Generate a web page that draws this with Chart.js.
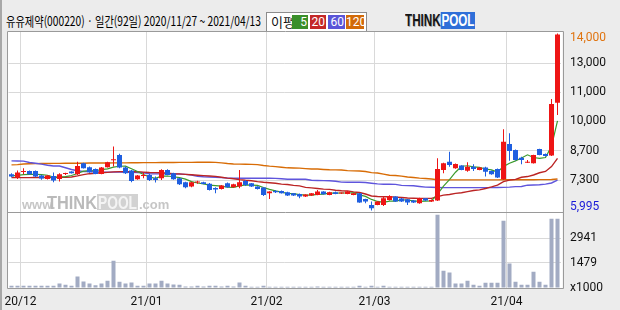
<!DOCTYPE html>
<html><head><meta charset="utf-8">
<script src="https://cdn.jsdelivr.net/npm/chart.js@4.4.1/dist/chart.umd.min.js"></script>
<style>
html,body{margin:0;padding:0;}
body{width:620px;height:310px;background:#ececec;position:relative;overflow:hidden;font-family:"Noto Sans CJK KR",sans-serif;}
#edge{position:absolute;left:0;top:0;width:2px;height:310px;background:#a8a8a8;}
#title{position:absolute;left:6px;top:12px;font-size:13px;line-height:17px;color:#000;white-space:nowrap;transform-origin:0 0;}
#legend{position:absolute;left:266px;top:12px;width:99px;height:18px;border:1px solid #8c8c8c;background:#fff;}
#legend .lb{position:absolute;left:4px;top:0px;font-size:13px;line-height:18px;color:#111;}
#legend .bx{position:absolute;top:2px;height:14px;font:12px/14px Roboto,sans-serif;color:#fff;text-align:right;box-sizing:border-box;padding-right:1px;}
#logo{position:absolute;left:405px;top:13px;height:16px;white-space:nowrap;font:bold 16px/16px "Liberation Sans",Arial,sans-serif;transform-origin:0 0;}
#logo .t{color:#151515;text-shadow:1px 1px 0 #b0b0b0;}
#logo .p{color:#fff;background:#2f6fd8;padding:0 1px;}
canvas{position:absolute;left:0;top:0;}
</style></head>
<body>
<div id="edge"></div>
<div id="title">유유제약(000220) · 일간(92일) 2020/11/27 ~ 2021/04/13</div>
<div id="legend"><span class="lb">이평</span>
<span class="bx" style="left:25px;width:16px;background:#3a8f2a">5</span>
<span class="bx" style="left:43px;width:16px;background:#c42828">20</span>
<span class="bx" style="left:61px;width:17px;background:#5a55d8">60</span>
<span class="bx" style="left:79px;width:18px;background:#d26a08">120</span>
</div>
<div id="logo"><span class="t">THINK</span><span class="p">POOL</span></div>
<canvas id="c" width="620" height="310"></canvas>
<script>
const dates = ['2020-11-27','2020-11-30',
'2020-12-01','2020-12-02','2020-12-03','2020-12-04','2020-12-07','2020-12-08','2020-12-09','2020-12-10','2020-12-11','2020-12-14','2020-12-15','2020-12-16','2020-12-17','2020-12-18','2020-12-21','2020-12-22','2020-12-23','2020-12-24','2020-12-28','2020-12-29','2020-12-30',
'2021-01-04','2021-01-05','2021-01-06','2021-01-07','2021-01-08','2021-01-11','2021-01-12','2021-01-13','2021-01-14','2021-01-15','2021-01-18','2021-01-19','2021-01-20','2021-01-21','2021-01-22','2021-01-25','2021-01-26','2021-01-27','2021-01-28','2021-01-29',
'2021-02-01','2021-02-02','2021-02-03','2021-02-04','2021-02-05','2021-02-08','2021-02-09','2021-02-10','2021-02-15','2021-02-16','2021-02-17','2021-02-18','2021-02-19','2021-02-22','2021-02-23','2021-02-24','2021-02-25','2021-02-26',
'2021-03-02','2021-03-03','2021-03-04','2021-03-05','2021-03-08','2021-03-09','2021-03-10','2021-03-11','2021-03-12','2021-03-15','2021-03-16','2021-03-17','2021-03-18','2021-03-19','2021-03-22','2021-03-23','2021-03-24','2021-03-25','2021-03-26','2021-03-29','2021-03-30','2021-03-31',
'2021-04-01','2021-04-02','2021-04-05','2021-04-06','2021-04-07','2021-04-08','2021-04-09','2021-04-12','2021-04-13'];

const opens = [7634,7483,7740,7785,7785,7573,7423,7558,7423,7640,7754,7634,8131,7950,7875,7649,7950,8270,8508,7935,
7800,7408,7560,7604,7453,7453,7830,7679,7453,7272,7076,7260,7272,7210,7010,6971,7227,7046,7076,7332,
7227,7076,7031,6775,6880,6880,6820,6775,6745,6624,6670,6700,6850,6700,6820,6760,6745,6700,6775,6519,
6247,6247,6247,6474,6624,6533,6502,6442,6321,6548,6397,6442,7828,8205,7904,8025,7798,7979,7828,7934,
7783,7873,7406,9004,8733,8386,8160,8130,8778,8552,8477,10873];
const highs = [7679,7800,7905,7800,7800,7610,7600,7709,7679,7700,7770,8200,8160,7980,7890,7960,8200,8885,8560,7980,
7830,7600,7709,7660,7528,7860,7860,7700,7470,7300,7290,7340,7300,7240,7050,7151,7260,7200,7830,7378,
7240,7090,7050,6870,6920,6900,6840,6790,6760,6730,6790,6926,6870,6840,6850,6810,6880,6790,6790,6530,
6398,6420,6624,6680,6640,6560,6520,6470,6570,6560,6490,8356,8160,8657,8120,8040,8175,8085,7950,7979,
7800,7890,9667,9486,8750,8431,8281,8520,8790,8570,11038,14000];
const lows = [7500,7423,7634,7620,7500,7390,7400,7272,7302,7600,7670,7604,7890,7700,7630,7630,7935,7980,7905,7649,
7272,7390,7453,7332,7257,7378,7590,7390,7150,7001,7050,7200,7180,6900,6775,6950,7020,7030,6996,7106,
7060,6950,6654,6519,6790,6760,6650,6650,6549,6610,6650,6690,6715,6690,6730,6740,6730,6690,6340,6323,
5995,6230,6200,6450,6380,6380,6246,6330,6300,6430,6380,6430,7678,7979,7880,7810,7753,7783,7810,7527,
7610,7470,7390,8250,8260,8085,8145,8115,8490,8440,8460,10315];
const closes = [7528,7709,7770,7634,7528,7438,7573,7347,7634,7660,7679,8010,7905,7724,7649,7935,8176,8290,7935,7679,
7332,7573,7590,7378,7378,7830,7604,7408,7182,7046,7272,7280,7197,6925,6940,7121,7046,7182,7272,7151,
7076,6971,6700,6850,6820,6775,6670,6670,6624,6715,6775,6850,6730,6820,6745,6790,6850,6775,6353,6398,
6097,6398,6549,6654,6398,6397,6351,6351,6548,6442,6472,7873,8130,8055,8100,7828,7979,7873,7934,7753,
7632,7482,9109,8687,8281,8281,8205,8507,8507,8461,10812,13950];
const volumes = [128,128,128,128,128,128,128,128,266,187,128,680,384,266,167,266,424,1606,364,266,
325,128,128,266,266,424,266,207,187,89,89,128,89,128,128,89,128,89,325,128,
69,69,128,69,69,69,69,69,69,69,69,89,69,69,69,69,69,69,128,69,
128,69,128,69,69,69,69,69,69,69,69,4330,1015,916,266,266,424,187,128,305,
305,305,3970,1448,364,187,187,955,364,187,4088,4088];
const ma5 = [7560,7580,7620,7630,7634,7616,7589,7504,7504,7530,7579,7666,7778,7796,7793,7845,7878,7955,7997,8003,
7882,7762,7622,7510,7450,7550,7556,7520,7480,7414,7302,7238,7195,7144,7123,7093,7046,7043,7112,7154,
7145,7130,7034,6950,6883,6823,6763,6757,6712,6691,6691,6727,6739,6778,6784,6787,6787,6796,6703,6633,
6495,6404,6359,6419,6419,6479,6470,6430,6409,6418,6433,6737,7093,7394,7726,7997,8018,7967,7943,7873,
7834,7735,7982,8133,8238,8368,8513,8392,8356,8392,8898,10047];
const ma20 = [7480,7480,7480,7480,7485,7485,7490,7490,7495,7500,7510,7560,7620,7660,7680,7700,7720,7740,7755,7755,
7750,7745,7730,7715,7710,7700,7680,7660,7650,7630,7610,7590,7570,7555,7540,7500,7460,7430,7390,7360,
7340,7300,7270,7250,7230,7190,7170,7130,7110,7040,7020,6990,6960,6950,6910,6890,6880,6830,6810,6740,
6650,6630,6620,6615,6600,6580,6560,6550,6545,6545,6545,6620,6690,6720,6770,6800,6850,6900,6930,6990,
7060,7140,7300,7370,7400,7500,7530,7600,7700,7760,7980,8350];
const ma60 = [8240,8235,8230,8165,8130,8090,8040,8010,8005,7930,7850,7790,7760,7755,7750,7735,7730,7730,7730,7725,
7720,7715,7700,7660,7650,7650,7650,7645,7640,7630,7600,7540,7520,7510,7500,7480,7460,7455,7455,7455,
7455,7455,7455,7455,7450,7430,7410,7410,7410,7405,7360,7350,7345,7340,7320,7280,7275,7270,7270,7260,
7230,7200,7185,7180,7175,7130,7120,7115,7080,7050,7045,7035,7030,7030,7030,7030,7030,7030,7030,7030,
7030,7035,7040,7050,7075,7080,7140,7150,7160,7190,7240,7370];
const ma120 = [8060,8070,8100,8110,8115,8120,8120,8125,8125,8130,8130,8135,8135,8140,8140,8140,8145,8150,8150,8150,
8155,8155,8160,8160,8160,8165,8165,8165,8170,8170,8170,8175,8175,8175,8170,8150,8120,8100,8090,8085,
8080,8070,8030,8000,7980,7950,7925,7920,7910,7890,7875,7870,7850,7835,7830,7825,7800,7785,7780,7760,
7710,7690,7640,7590,7575,7550,7510,7490,7460,7440,7420,7385,7380,7380,7380,7380,7380,7380,7380,7380,
7380,7380,7385,7385,7385,7385,7385,7385,7390,7390,7395,7420];

const priceTickValues = [6140, 7374, 8686, 10029, 11341, 12652, 13783];
const priceTickLabels = ['5,995','7,300','8,700','10,000','11,000','13,000','14,000'];
const volTickValues = [0, 1479, 2941];
const volTickLabels = ['x1000','1479','2941'];

const UP = '#ee1515', DOWN = '#1f5fe0';
const candleColors = closes.map((c,i)=> c >= opens[i] ? UP : DOWN);

const t = document.getElementById('title');
t.style.transform = 'scaleX(' + (255 / t.offsetWidth) + ')';
const lg = document.getElementById('logo');
lg.style.transform = 'scaleX(' + (70 / lg.offsetWidth) + ')';

const frame = {
  id: 'frame',
  beforeDraw(chart) {
    const {ctx, chartArea: a} = chart;
    ctx.save();
    ctx.fillStyle = '#ffffff';
    ctx.fillRect(a.left - 1.5, a.top, a.right - a.left + 3.5, a.bottom - a.top);
    ctx.restore();
  },
  beforeDatasetsDraw(chart) {
    const {ctx} = chart;
    const x0 = chart.chartArea.left + 13.5, base = 209;
    ctx.save();
    ctx.textBaseline = 'alphabetic';
    ctx.fillStyle = '#c6c6c6';
    ctx.font = 'bold 13px "Liberation Sans", Arial, sans-serif';
    ctx.fillText('www.', x0, base);
    let x = x0 + 25;
    ctx.font = 'bold 19px "Liberation Sans", Arial, sans-serif';
    const w1 = ctx.measureText('THINK').width;
    ctx.save(); ctx.translate(x, base); ctx.scale(50 / w1, 1);
    ctx.fillStyle = '#bababa'; ctx.fillText('THINK', 0, 0); ctx.restore();
    x += 50;
    ctx.fillStyle = '#d2d2d2';
    ctx.fillRect(x, base - 15, 41, 16);
    const w2 = ctx.measureText('POOL').width;
    ctx.save(); ctx.translate(x + 1, base); ctx.scale(39 / w2, 1);
    ctx.fillStyle = '#f4f4f4'; ctx.fillText('POOL', 0, 0); ctx.restore();
    x += 42;
    ctx.font = 'bold 13px "Liberation Sans", Arial, sans-serif';
    ctx.fillStyle = '#c6c6c6';
    ctx.fillText('.com', x, base);
    ctx.restore();
  },
  afterDraw(chart) {
    const {ctx, chartArea: a} = chart;
    const L = Math.round(a.left) - 1.5, R = Math.round(a.right) + 2.5;
    const T = Math.round(a.top) + 0.5, B = Math.round(a.bottom) + 0.5;
    const D = Math.round(chart.scales.y.bottom) + 0.5;
    ctx.save();
    ctx.strokeStyle = '#9a9a9a';
    ctx.lineWidth = 1;
    ctx.beginPath();
    ctx.rect(L, T, R - L, B - T);
    ctx.moveTo(L, D); ctx.lineTo(R, D);
    ctx.stroke();
    ctx.restore();
  }
};

const isMonthStart = i => i > 0 && i < dates.length && dates[i].slice(0,7) !== dates[i-1].slice(0,7);

new Chart(document.getElementById('c'), {
  data: {
    labels: dates,
    datasets: [
      {type:'bar', label:'wick', data: lows.map((l,i)=>[l, highs[i]]), backgroundColor: candleColors,
       barThickness: 1, grouped: false, yAxisID: 'y', order: 2, inflateAmount: 0, borderWidth: 0},
      {type:'bar', label:'body', data: opens.map((o,i)=>[o, closes[i]]), backgroundColor: candleColors,
       barThickness: 5, grouped: false, yAxisID: 'y', order: 1, minBarLength: 1, inflateAmount: 0, borderWidth: 0},
      {type:'line', label:'5', data: ma5, borderColor:'#3b9a2b', borderWidth:1.2, pointRadius:0, tension:0, yAxisID:'y', order: 3},
      {type:'line', label:'20', data: ma20, borderColor:'#bb2424', borderWidth:1.4, pointRadius:0, tension:0, yAxisID:'y', order: 3},
      {type:'line', label:'60', data: ma60, borderColor:'#5f55dc', borderWidth:1.4, pointRadius:0, tension:0, yAxisID:'y', order: 3},
      {type:'line', label:'120', data: ma120, borderColor:'#d86c06', borderWidth:1.4, pointRadius:0, tension:0, yAxisID:'y', order: 3},
      {type:'bar', label:'vol', data: volumes, backgroundColor:'#a2abc3', barThickness: 4, grouped:false,
       yAxisID:'v', order: 4, inflateAmount: 0, borderWidth: 0}
    ]
  },
  options: {
    responsive: false,
    devicePixelRatio: 1,
    animation: false,
    events: [],
    layout: {padding: {left: 8.5, top: 31, right: 0, bottom: 0}},
    plugins: {legend: {display:false}, tooltip: {enabled:false}},
    scales: {
      x: {
        type: 'category', offset: true,
        grid: {offset: true, drawTicks: false, lineWidth: 1,
               color: c => isMonthStart(c.index) ? '#d9d9d9' : 'rgba(0,0,0,0)'},
        border: {display:false},
        ticks: {autoSkip:false, maxRotation:0, padding: 7, labelOffset: -3, color:'#111',
                font: {family:'Roboto', size:12},
                callback: (v, i) => isMonthStart(i) ? dates[i].slice(2,4) + '/' + dates[i].slice(5,7) : ''},
        afterFit: s => { s.height = 22; }
      },
      y: {
        type: 'linear', position: 'right', stack: 'panel', stackWeight: 181,
        min: 5927, max: 14113,
        grid: {drawTicks:false, color: c => (c.index > 0 && c.index < 6) ? '#d9d9d9' : 'rgba(0,0,0,0)'},
        border: {display:false},
        afterBuildTicks: s => { s.ticks = priceTickValues.map(v => ({value: v})); },
        ticks: {autoSkip:false, padding: 9.5, font:{family:'Roboto', size:12},
                color: c => c.index === 6 ? '#e07410' : (c.index === 0 ? '#1a1ad8' : '#111'),
                callback: (v, i) => priceTickLabels[i]},
        afterFit: s => { s.width = 59.5; }
      },
      v: {
        type: 'linear', position: 'right', stack: 'panel', stackWeight: 76,
        min: 0, max: 4490,
        grid: {drawTicks:false, color: c => c.index > 0 ? '#d9d9d9' : 'rgba(0,0,0,0)'},
        border: {display:false},
        afterBuildTicks: s => { s.ticks = volTickValues.map(v => ({value: v})); },
        ticks: {autoSkip:false, padding: 9.5, font:{family:'Roboto', size:12}, color:'#111',
                callback: (v, i) => volTickLabels[i]},
        afterFit: s => { s.width = 59.5; }
      }
    }
  },
  plugins: [frame]
});
</script>
</body></html>
